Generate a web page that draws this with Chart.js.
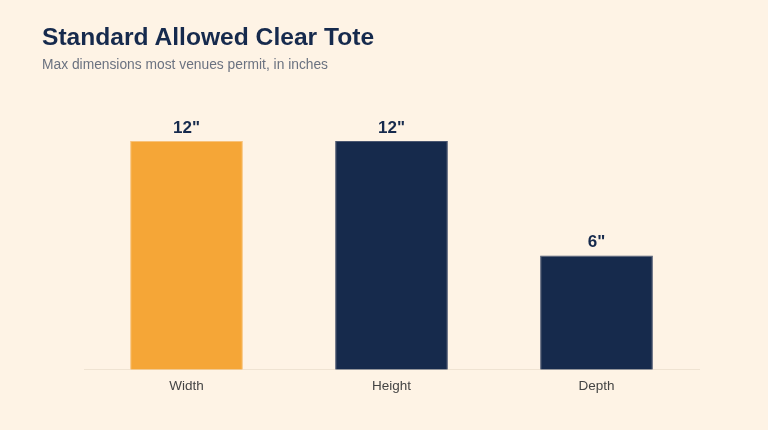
<!DOCTYPE html>
<html>
<head>
<meta charset="utf-8">
<script src="https://cdn.jsdelivr.net/npm/chart.js@4"></script>
<style>
  html, body { margin: 0; padding: 0; background: #fef3e5; }
  body { width: 768px; height: 430px; position: relative; overflow: hidden; font-family: "Liberation Sans", Arial, sans-serif; }
  h1 { position: absolute; left: 42px; top: 23px; margin: 0; font-size: 24.6px; font-weight: bold; color: #162a4d; }
  p.sub { position: absolute; left: 42px; top: 57px; margin: 0; font-size: 13.8px; color: #6b7280; }
  #wrap { position: absolute; left: 0; top: 0; width: 768px; height: 430px; }
</style>
</head>
<body>
<div id="wrap"><canvas id="chart"></canvas></div>
<h1>Standard Allowed Clear Tote</h1>
<p class="sub">Max dimensions most venues permit, in inches</p>
<script>
const categories = ['Width', 'Height', 'Depth'];
const inches = [12, 12, 6];
const barColors = ['#f5a637', '#162a4c', '#162a4c'];
const edgeColors = ['#f8c27a', '#4a5670', '#4a5670'];

const valueLabels = {
  id: 'valueLabels',
  afterDatasetsDraw(chart) {
    const ctx = chart.ctx;
    const meta = chart.getDatasetMeta(0);
    ctx.save();
    ctx.font = 'bold 17px "Liberation Sans", Arial, sans-serif';
    ctx.fillStyle = '#162a4d';
    ctx.textAlign = 'center';
    ctx.textBaseline = 'alphabetic';
    meta.data.forEach((bar, i) => {
      ctx.fillText(inches[i] + '"', bar.x, bar.y - 8);
    });
    ctx.restore();
  }
};

let ctx = document.getElementById('chart').getContext('2d');

let myChart = new Chart(ctx, {
  type: 'bar',
  data: {
    labels: categories,
    datasets: [{
      data: inches,
      backgroundColor: barColors,
      borderColor: edgeColors,
      borderWidth: 1,
      barPercentage: 0.55,
      categoryPercentage: 1,
    }]
  },
  options: {
    animation: false,
    responsive: true,
    maintainAspectRatio: false,
    layout: {
      padding: { left: 84, right: 69, top: 103, bottom: 36 }
    },
    plugins: {
      legend: { display: false },
      tooltip: { enabled: false },
    },
    scales: {
      x: {
        grid: { display: false },
        border: { display: true, color: '#efe3d2', width: 1 },
        ticks: {
          color: '#444444',
          padding: 0,
          font: { family: '"Liberation Sans", Arial, sans-serif', size: 13.5 }
        }
      },
      y: {
        display: false,
        min: 0,
        max: 14
      }
    }
  },
  plugins: [valueLabels]
});
</script>
</body>
</html>
